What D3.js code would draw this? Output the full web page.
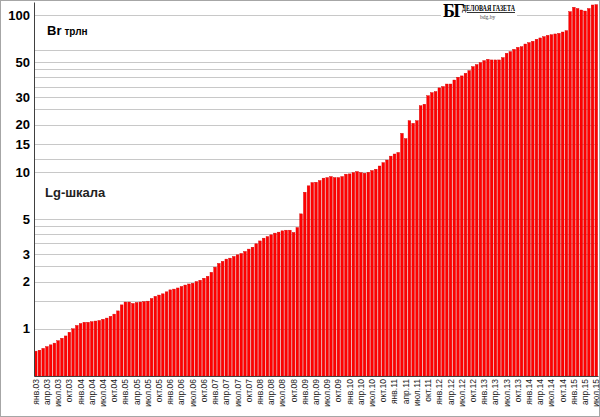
<!DOCTYPE html>
<html>
<head>
<meta charset="utf-8">
<script src="https://cdn.jsdelivr.net/npm/d3@7"></script>
<style>
  body { margin: 0; background: #fff; }
  text { font-family: "Liberation Sans", Arial, sans-serif; }
  text.serif { font-family: "Liberation Serif", "DejaVu Serif", serif; }
</style>
</head>
<body>
<div id="container"></div>
<script>
/* CONSTANTS AND GLOBALS */
const width = 600;
const height = 417;
const margin = {top: 2, bottom: 41, left: 34, right: 2};

/* DATA - money supply, Br trillion, monthly jan 2003 .. jul 2015 */
const startYear = 2003;
const v2003 = [0.72, 0.73, 0.75, 0.77, 0.79, 0.81, 0.84, 0.87, 0.90, 0.95, 1.00, 1.05];
const v2004 = [1.08, 1.10, 1.10, 1.11, 1.12, 1.13, 1.15, 1.17, 1.20, 1.24, 1.30, 1.42];
const v2005 = [1.48, 1.48, 1.45, 1.47, 1.48, 1.49, 1.50, 1.56, 1.61, 1.64, 1.67, 1.72];
const v2006 = [1.77, 1.79, 1.82, 1.86, 1.90, 1.93, 1.95, 2.00, 2.04, 2.10, 2.16, 2.29];
const v2007 = [2.47, 2.61, 2.69, 2.78, 2.82, 2.89, 2.96, 3.02, 3.11, 3.22, 3.31, 3.48];
const v2008 = [3.63, 3.78, 3.87, 3.97, 4.07, 4.13, 4.21, 4.25, 4.25, 4.11, 4.42, 5.40];
const v2009 = [7.42, 8.15, 8.55, 8.59, 8.81, 9.12, 9.20, 9.34, 9.20, 9.20, 9.34, 9.67];
const v2010 = [9.71, 9.90, 10.05, 9.90, 9.80, 9.95, 10.2, 10.4, 10.9, 11.45, 11.9, 12.6];
const v2011 = [13.0, 13.3, 17.6, 16.3, 21.2, 20.4, 21.2, 26.4, 27.0, 30.6, 32.0, 32.5];
const v2012 = [34.3, 35.0, 36.3, 36.3, 38.5, 40.1, 40.9, 42.5, 44.2, 46.9, 48.3, 49.7];
const v2013 = [51.2, 52.2, 51.7, 51.7, 51.7, 53.5, 57.0, 58.4, 60.4, 62.2, 62.8, 65.3];
const v2014 = [66.7, 68.0, 70.0, 71.4, 72.8, 74.2, 74.9, 75.7, 76.4, 77.9, 79.5, 105];
const v2015 = [112, 110, 107.6, 106, 110, 115.8, 116.4];

const monthNames = ["янв", "фев", "мар", "апр", "май", "июн", "июл", "авг", "сен", "окт", "ноя", "дек"];
const yTickLabels = [1, 2, 3, 5, 10, 15, 20, 30, 50, 100];
const gridValues = [1, 1.5, 2, 2.5, 3, 3.5, 4, 4.5, 5, 10, 12, 15, 20, 25, 30, 35, 40, 45, 50, 60, 100];

const values = [v2003, v2004, v2005, v2006, v2007, v2008, v2009, v2010, v2011, v2012, v2013, v2014, v2015].flat();
const data = values.map((v, i) => ({
  i: i,
  label: monthNames[i % 12] + "." + String((startYear + Math.floor(i / 12)) % 100).padStart(2, "0"),
  value: v
}));

/* SCALES */
const xScale = d3.scaleBand()
  .domain(data.map(d => d.i))
  .range([margin.left, width - margin.right])
  .paddingInner(0.28)
  .paddingOuter(0.1);

const yScale = d3.scaleLog()
  .domain([0.5, 121])
  .range([height - margin.bottom, margin.top]);

/* SVG */
const svg = d3.select("#container")
  .append("svg")
  .attr("width", width)
  .attr("height", height);

svg.append("rect")
  .attr("x", 0.5).attr("y", 0.5)
  .attr("width", width - 1).attr("height", height - 1)
  .attr("fill", "#fff")
  .attr("stroke", "#a6a6a6");

// gridlines
svg.append("g")
  .selectAll("line")
  .data(gridValues)
  .join("line")
  .attr("x1", margin.left)
  .attr("x2", width - margin.right)
  .attr("y1", d => Math.round(yScale(d)) + 0.5)
  .attr("y2", d => Math.round(yScale(d)) + 0.5)
  .attr("stroke", "#c8c8c8")
  .attr("stroke-width", 1);

// bars
svg.append("g")
  .selectAll("rect")
  .data(data)
  .join("rect")
  .attr("x", d => xScale(d.i))
  .attr("width", xScale.bandwidth())
  .attr("y", d => yScale(d.value))
  .attr("height", d => yScale(0.5) - yScale(d.value))
  .attr("fill", "#ff0000")
  .attr("stroke", "#d40000")
  .attr("stroke-width", 0.4);

// Y axis
const yAxis = d3.axisLeft(yScale)
  .tickValues(yTickLabels)
  .tickFormat(d3.format("d"))
  .tickSize(0)
  .tickPadding(4);
const yg = svg.append("g")
  .attr("transform", `translate(${margin.left},0)`)
  .call(yAxis);
yg.select(".domain").attr("stroke", "#404040");
yg.selectAll("text")
  .attr("font-size", 13)
  .attr("font-weight", "bold")
  .attr("fill", "#000");

// X axis
const xAxis = d3.axisBottom(xScale)
  .tickValues(data.filter(d => d.i % 3 === 0).map(d => d.i))
  .tickFormat(i => data[i].label)
  .tickSize(0)
  .tickSizeOuter(0);
const xg = svg.append("g")
  .attr("transform", `translate(0,${height - margin.bottom})`)
  .call(xAxis);
xg.select(".domain").attr("stroke", "#404040");
xg.selectAll("text")
  .attr("font-size", 8.5)
  .attr("fill", "#222")
  .attr("text-anchor", "end")
  .attr("transform", "rotate(-90)")
  .attr("x", -3)
  .attr("y", 0)
  .attr("dy", "0.35em");

// unit label
svg.append("text")
  .attr("x", 47).attr("y", 35)
  .attr("font-size", 13).attr("font-weight", "bold")
  .text("Br")
  .append("tspan")
  .attr("font-size", 10)
  .attr("dx", 3)
  .text("трлн");

svg.append("text")
  .attr("x", 45).attr("y", 197)
  .attr("font-size", 13)
  .attr("font-weight", "bold")
  .attr("fill", "#222")
  .text("Lg-шкала");

// logo
const logo = svg.append("g").attr("transform", "translate(441,1)");
logo.append("rect")
  .attr("width", 76).attr("height", 20)
  .attr("fill", "#fff");
logo.append("text")
  .attr("class", "serif")
  .attr("x", 2).attr("y", 16)
  .attr("font-size", 18).attr("font-weight", "bold")
  .attr("letter-spacing", -1.5)
  .text("БГ");
logo.append("text")
  .attr("class", "serif")
  .attr("x", 21).attr("y", 10)
  .attr("font-size", 8).attr("font-weight", "bold")
  .attr("text-decoration", "underline")
  .attr("textLength", 53)
  .attr("lengthAdjust", "spacingAndGlyphs")
  .text("ДЕЛОВАЯ ГАЗЕТА");
logo.append("text")
  .attr("class", "serif")
  .attr("x", 39).attr("y", 17.5)
  .attr("font-size", 5.5)
  .attr("fill", "#444")
  .text("bdg.by");
</script>
</body>
</html>
